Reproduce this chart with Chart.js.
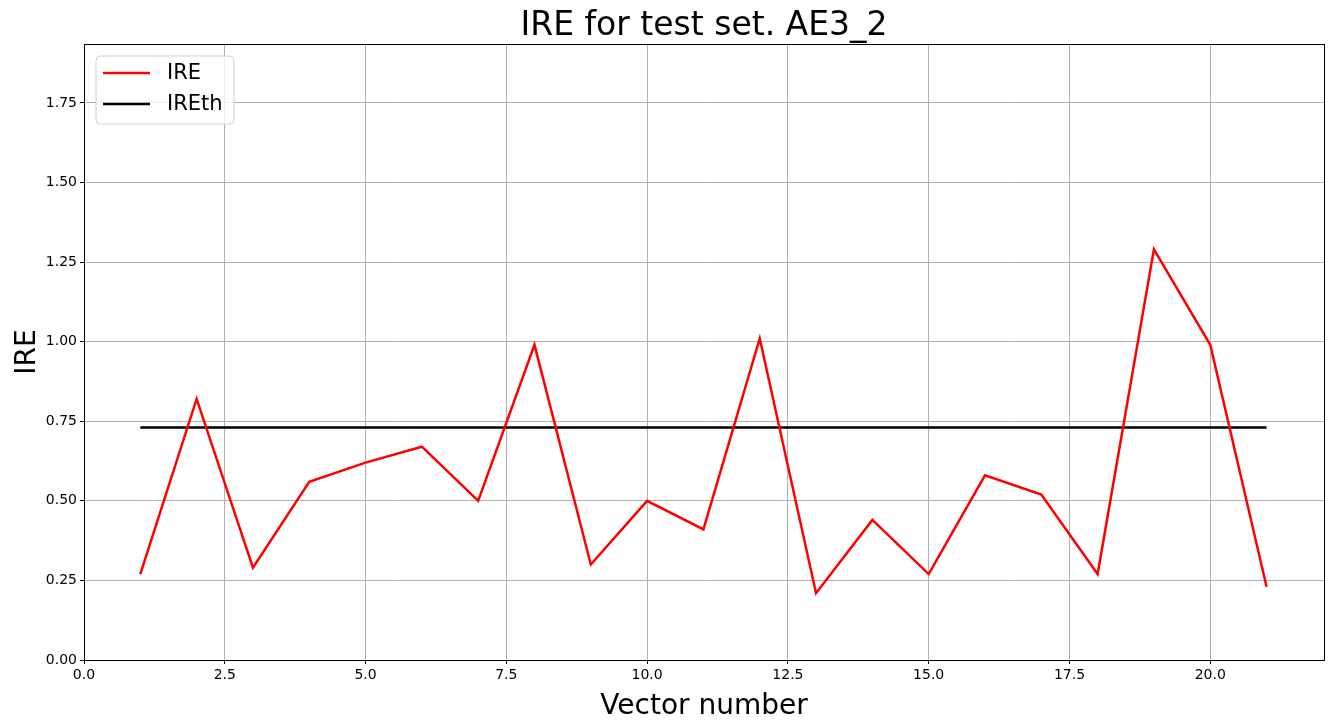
<!DOCTYPE html>
<html>
<head>
<meta charset="utf-8">
<script src="https://cdn.jsdelivr.net/npm/chart.js@4.4.0/dist/chart.umd.min.js"></script>
<style>
  html, body { margin: 0; padding: 0; background: #fff; }
  #wrap { width: 1334px; height: 727px; }
</style>
</head>
<body>
<div id="wrap"><canvas id="myChart" width="1334" height="727"></canvas></div>
<script>
// data
var vectorNumbers = [1, 2, 3, 4, 5, 6, 7, 8, 9, 10, 11, 12, 13, 14, 15, 16, 17, 18, 19, 20, 21];
var ireValues = [0.27, 0.82, 0.29, 0.56, 0.62, 0.67, 0.50, 0.99, 0.30, 0.50, 0.41,
                 1.01, 0.21, 0.44, 0.27, 0.58, 0.52, 0.27, 1.29, 0.99, 0.23];
var ireThreshold = 0.73;
var seriesLabels = ['IRE', 'IREth'];
var chartTitle = 'IRE for test set. AE3_2';
var xTitle = 'Vector number';
var yTitle = 'IRE';

var FONT = "'DejaVu Sans', sans-serif";

var ireData = vectorNumbers.map(function (x, i) { return { x: x, y: ireValues[i] }; });
var thData = vectorNumbers.map(function (x) { return { x: x, y: ireThreshold }; });

// keeps only ticks at whole steps (matplotlib doesn't label the axis ends)
function keepSteps(step) {
  return function (scale) {
    scale.ticks = scale.ticks.filter(function (t) {
      var r = t.value / step;
      return Math.abs(r - Math.round(r)) < 1e-6;
    });
  };
}

// title, frame and legend drawn matplotlib-like
var extrasPlugin = {
  id: 'extras',
  afterDraw: function (chart) {
    var ctx = chart.ctx;
    var a = chart.chartArea;
    ctx.save();

    // frame (top/right spines)
    ctx.strokeStyle = '#000';
    ctx.lineWidth = 1;
    ctx.strokeRect(a.left + 0.5, a.top + 0.5, a.right - a.left, a.bottom - a.top);

    // title
    ctx.fillStyle = '#000';
    ctx.font = '33px ' + FONT;
    ctx.textAlign = 'center';
    ctx.textBaseline = 'middle';
    ctx.fillText(chartTitle, (a.left + a.right) / 2, 26);

    // legend
    var bx = a.left + 12, by = a.top + 12, bw = 138, bh = 68, r = 4;
    ctx.beginPath();
    ctx.moveTo(bx + r, by);
    ctx.lineTo(bx + bw - r, by);
    ctx.quadraticCurveTo(bx + bw, by, bx + bw, by + r);
    ctx.lineTo(bx + bw, by + bh - r);
    ctx.quadraticCurveTo(bx + bw, by + bh, bx + bw - r, by + bh);
    ctx.lineTo(bx + r, by + bh);
    ctx.quadraticCurveTo(bx, by + bh, bx, by + bh - r);
    ctx.lineTo(bx, by + r);
    ctx.quadraticCurveTo(bx, by, bx + r, by);
    ctx.closePath();
    ctx.fillStyle = 'rgba(255,255,255,0.8)';
    ctx.fill();
    ctx.strokeStyle = '#d0d0d0';
    ctx.lineWidth = 1;
    ctx.stroke();

    ctx.font = '21px ' + FONT;
    ctx.textAlign = 'left';
    chart.data.datasets.forEach(function (ds, i) {
      var ly = by + 17 + i * 31;
      ctx.strokeStyle = ds.borderColor;
      ctx.lineWidth = ds.borderWidth;
      ctx.beginPath();
      ctx.moveTo(bx + 7, ly);
      ctx.lineTo(bx + 54, ly);
      ctx.stroke();
      ctx.fillStyle = '#000';
      ctx.fillText(ds.label, bx + 71, ly + 1);
    });

    ctx.restore();
  }
};

var config = {
  type: 'line',
  data: {
    datasets: [
      {
        label: seriesLabels[0],
        data: ireData,
        borderColor: '#ff0000',
        backgroundColor: '#ff0000',
        borderWidth: 2.5,
        pointRadius: 0,
        fill: false,
        tension: 0
      },
      {
        label: seriesLabels[1],
        data: thData,
        borderColor: '#000000',
        backgroundColor: '#000000',
        borderWidth: 2.5,
        pointRadius: 0,
        fill: false,
        tension: 0
      }
    ]
  },
  options: {
    responsive: false,
    animation: false,
    layout: { padding: { top: 44, right: 10, left: 0, bottom: 0 } },
    plugins: {
      legend: { display: false },
      title: { display: false },
      tooltip: { enabled: false }
    },
    scales: {
      x: {
        type: 'linear',
        min: 0,
        max: 22.02,
        afterBuildTicks: keepSteps(2.5),
        afterFit: function (scale) { scale.height = 67; },
        ticks: {
          stepSize: 2.5,
          color: '#000',
          padding: 3,
          maxRotation: 0,
          font: { family: FONT, size: 14 },
          callback: function (v) { return Number(v).toFixed(1); }
        },
        grid: { color: '#b0b0b0', lineWidth: 1, tickColor: '#000', tickLength: 4 },
        border: { display: true, color: '#000', width: 1 },
        title: {
          display: true,
          text: xTitle,
          color: '#000',
          font: { family: FONT, size: 28 },
          padding: { top: 4, bottom: 3 }
        }
      },
      y: {
        type: 'linear',
        min: 0,
        max: 1.935,
        afterBuildTicks: keepSteps(0.25),
        afterFit: function (scale) { scale.width = 84; },
        ticks: {
          stepSize: 0.25,
          color: '#000',
          padding: 3,
          font: { family: FONT, size: 14 },
          callback: function (v) { return Number(v).toFixed(2); }
        },
        grid: { color: '#b0b0b0', lineWidth: 1, tickColor: '#000', tickLength: 4 },
        border: { display: true, color: '#000', width: 1 },
        title: {
          display: true,
          text: yTitle,
          color: '#000',
          font: { family: FONT, size: 28 },
          padding: { top: 11, bottom: 0 }
        }
      }
    }
  },
  plugins: [extrasPlugin]
};

var ctx = document.getElementById('myChart');
var lineGraph = new Chart(ctx, config);
</script>
</body>
</html>
